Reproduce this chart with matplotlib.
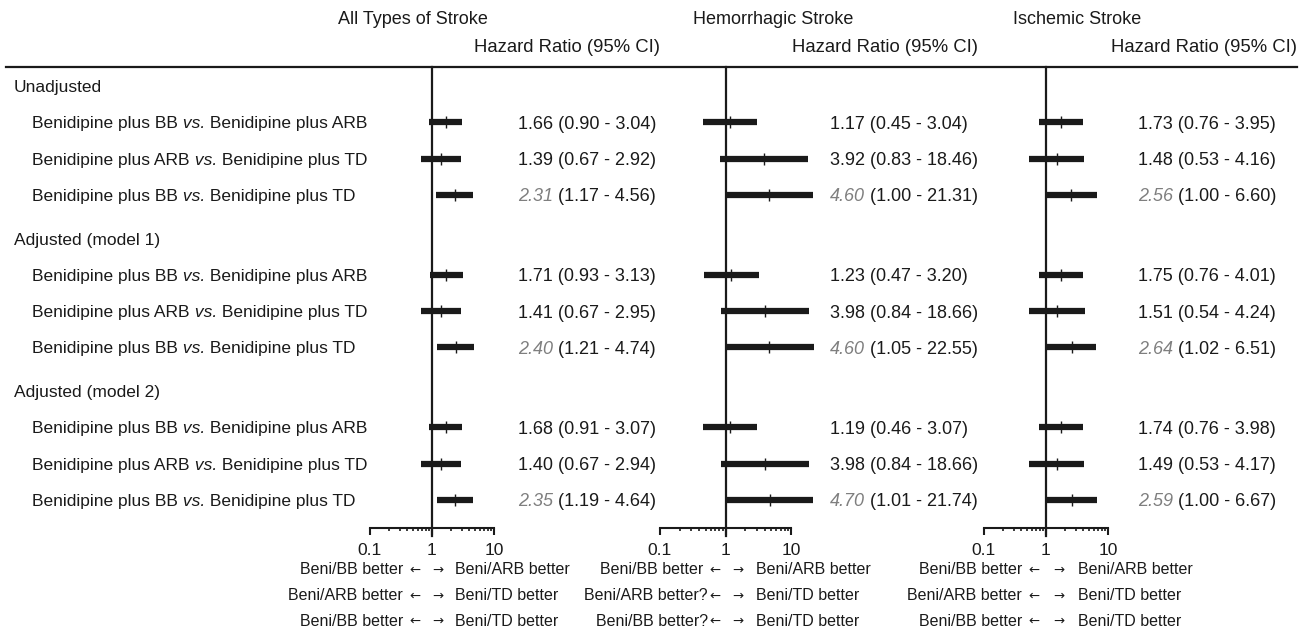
import matplotlib
matplotlib.use("Agg")
import matplotlib.pyplot as plt
import matplotlib.transforms as mtransforms
from matplotlib.ticker import NullFormatter

plt.rcParams['font.family'] = ['Liberation Sans', 'DejaVu Sans']

# ---- data ----
panels = ["All Types of Stroke", "Hemorrhagic Stroke", "Ischemic Stroke"]
groups = ["Unadjusted", "Adjusted (model 1)", "Adjusted (model 2)"]
comparisons = ["Benidipine plus BB vs. Benidipine plus ARB",
               "Benidipine plus ARB vs. Benidipine plus TD",
               "Benidipine plus BB vs. Benidipine plus TD"]

hr_all = [1.66, 1.39, 2.31, 1.71, 1.41, 2.40, 1.68, 1.40, 2.35]
lo_all = [0.90, 0.67, 1.17, 0.93, 0.67, 1.21, 0.91, 0.67, 1.19]
hi_all = [3.04, 2.92, 4.56, 3.13, 2.95, 4.74, 3.07, 2.94, 4.64]

hr_hem = [1.17, 3.92, 4.60, 1.23, 3.98, 4.60, 1.19, 3.98, 4.70]
lo_hem = [0.45, 0.83, 1.00, 0.47, 0.84, 1.05, 0.46, 0.84, 1.01]
hi_hem = [3.04, 18.46, 21.31, 3.20, 18.66, 22.55, 3.07, 18.66, 21.74]

hr_isc = [1.73, 1.48, 2.56, 1.75, 1.51, 2.64, 1.74, 1.49, 2.59]
lo_isc = [0.76, 0.53, 1.00, 0.76, 0.54, 1.02, 0.76, 0.53, 1.00]
hi_isc = [3.95, 4.16, 6.60, 4.01, 4.24, 6.51, 3.98, 4.17, 6.67]

tick_vals = [0.1, 1, 10]
tick_lbls = ["0.1", "1", "10"]

left_notes = [["Beni/BB better", "Beni/ARB better", "Beni/BB better"],
              ["Beni/BB better", "Beni/ARB better?", "Beni/BB better?"],
              ["Beni/BB better", "Beni/ARB better", "Beni/BB better"]]
right_notes = ["Beni/ARB better", "Beni/TD better", "Beni/TD better"]

all_hr = [hr_all, hr_hem, hr_isc]
all_lo = [lo_all, lo_hem, lo_isc]
all_hi = [hi_all, hi_hem, hi_isc]

# ---- layout (pixels of a 1300x631 canvas) ----
W, H = 1300, 631
fx = lambda x: x / W
fy = lambda y: 1 - y / H

axes_px = [(370, 494), (660, 791), (984, 1108)]
value_x = [518, 830, 1138]
head_x = [338, 693, 1013]
hr_right = [660, 978, 1297]
larrow_x = [409, 709, 1028]
rarrow_x = [432, 732, 1053]
rnote_x = [455, 756, 1078]
note_y = [570, 596, 621]
top_px, axis_px = 67, 528
gap = 0.2

ink = '#1a1a1a'
grey = '#7f7f7f'
fs = 12.5
fs_val = 13


def chain(ax, x, y, parts, transform, **kw):
    # draw text pieces one after another, each with its own style
    txt, style = parts[0]
    prev = ax.text(x, y, txt, transform=transform, va='center_baseline', ha='left',
                   **style, **kw)
    for txt, style in parts[1:]:
        prev = ax.annotate(txt, xy=(1, 0), xycoords=prev, va='bottom', ha='left',
                           **style, **kw)
    return prev


# y positions (row units): group header then 3 rows
head_y = [g * (4 + gap) for g in range(3)]
row_y = [head_y[g] + 1 + r for g in range(3) for r in range(3)]
unit = (500 - 86) / row_y[-1]
y_top = -(86 - top_px) / unit
y_bot = row_y[-1] + (axis_px - 500) / unit

fig = plt.figure(figsize=(W / 100, H / 100), dpi=100)

axs = []
for p in range(3):
    x0, x1 = axes_px[p]
    ax = fig.add_axes([fx(x0), fy(axis_px), fx(x1 - x0), (axis_px - top_px) / H])
    ax.set_xscale('log')
    ax.set_xlim(0.1, 10)
    ax.set_ylim(y_bot, y_top)
    ax.patch.set_visible(False)
    for s in ['top', 'left', 'right']:
        ax.spines[s].set_visible(False)
    ax.spines['bottom'].set_linewidth(1.5)
    ax.spines['bottom'].set_color(ink)
    ax.set_yticks([])
    ax.set_xticks(tick_vals, tick_lbls)
    ax.xaxis.set_minor_formatter(NullFormatter())
    ax.tick_params(axis='x', which='major', direction='out', length=5, width=1.5,
                   labelsize=12.5, pad=6, color=ink, labelcolor=ink)
    ax.tick_params(axis='x', which='minor', direction='out', length=2.5, width=1.2, color=ink)

    ax.axvline(1, ymin=-0.018, ymax=1, color=ink, lw=1.6, clip_on=False)
    ax.hlines(row_y, all_lo[p], all_hi[p], color=ink, lw=4.5, clip_on=False)
    ax.plot(all_hr[p], row_y, '|', ms=9, mew=1, color=ink, clip_on=False)

    # value labels
    tr = mtransforms.blended_transform_factory(fig.transFigure, ax.transData)
    for i, y in enumerate(row_y):
        hr, lo, hi = all_hr[p][i], all_lo[p][i], all_hi[p][i]
        ci = "(%.2f - %.2f)" % (lo, hi)
        if i % 3 == 2:
            chain(ax, fx(value_x[p]), y,
                  [("%.2f" % hr, dict(style='italic', color=grey)), (" " + ci, dict(color=ink))],
                  tr, fontsize=fs_val)
        else:
            ax.text(fx(value_x[p]), y, "%.2f %s" % (hr, ci), transform=tr, fontsize=fs_val,
                    color=ink, va='center_baseline', ha='left')

    # headers
    fig.text(fx(head_x[p]), fy(20), panels[p], fontsize=fs_val, color=ink, va='center', ha='left')
    fig.text(fx(hr_right[p]), fy(48), "Hazard Ratio (95% CI)", fontsize=13.3, color=ink,
             va='center', ha='right')

    # direction notes below axis
    for k, yy in enumerate(note_y):
        note = left_notes[p][k]
        shift = 1 if note.endswith("?") else 6
        fig.text(fx(larrow_x[p] - shift), fy(yy), note, fontsize=11.5, color=ink,
                 va='center', ha='right')
        fig.text(fx(larrow_x[p]), fy(yy), "\u2190", fontsize=9.5, family='DejaVu Sans',
                 color=ink, va='center', ha='left')
        fig.text(fx(rarrow_x[p]), fy(yy), "\u2192", fontsize=9.5, family='DejaVu Sans',
                 color=ink, va='center', ha='left')
        fig.text(fx(rnote_x[p]), fy(yy), right_notes[k], fontsize=11.5, color=ink,
                 va='center', ha='left')
    axs.append(ax)

# left column labels
tr0 = mtransforms.blended_transform_factory(fig.transFigure, axs[0].transData)
for g in range(3):
    axs[0].text(fx(14), head_y[g], groups[g], transform=tr0, fontsize=fs, color=ink,
                va='center_baseline', ha='left')
    for r in range(3):
        a, b = comparisons[r].split(" vs. ")
        chain(axs[0], fx(32), row_y[g * 3 + r],
              [(a, {}), (" vs.", dict(style='italic')), (" " + b, {})],
              tr0, fontsize=fs, color=ink)

# rule under the headers
fig.add_artist(plt.Line2D([fx(6), fx(1297)], [fy(top_px), fy(top_px)],
                          transform=fig.transFigure, color=ink, lw=1.6))

fig.savefig("out.png", dpi=100)
